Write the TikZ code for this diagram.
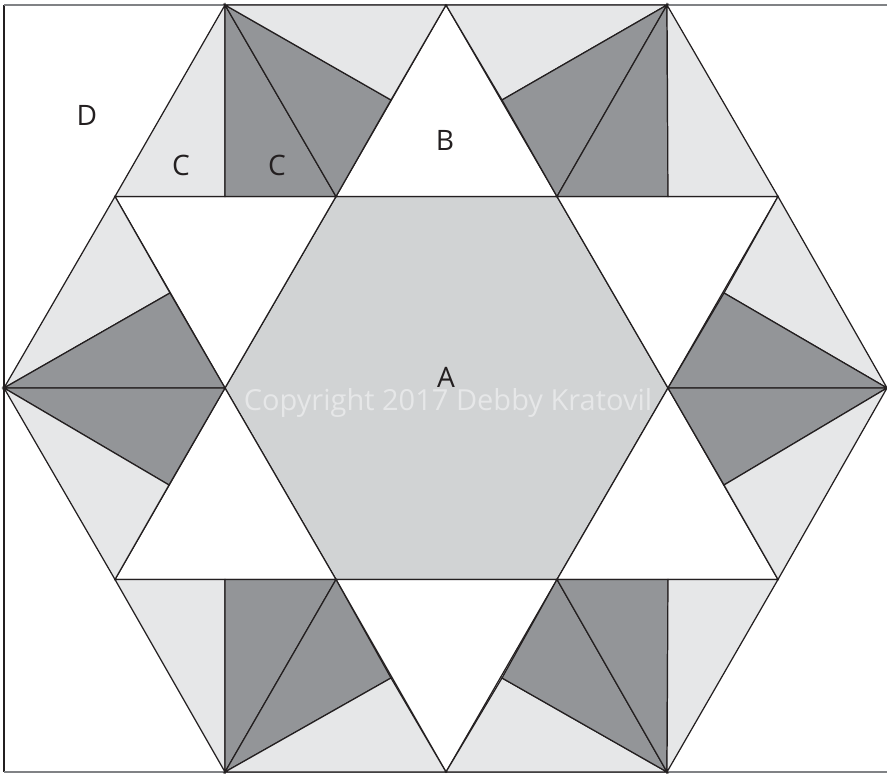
\documentclass[tikz,border=0pt]{standalone}
\usepackage{fontspec}
\setmainfont{Open Sans}
\usetikzlibrary{positioning,calc}
\definecolor{lightpatch}{HTML}{E6E7E8}
\definecolor{darkpatch}{HTML}{939598}
\definecolor{centerpatch}{HTML}{D1D3D4}
\definecolor{inkline}{HTML}{231F20}
\definecolor{frameline}{HTML}{808285}
\tikzset{
  lightp/.style={fill=lightpatch,draw=inkline,line width=0.35pt},
  darkp/.style={fill=darkpatch,draw=inkline,line width=0.35pt},
  whitep/.style={fill=white,draw=inkline,line width=0.35pt},
  letter/.style={text=inkline,font=\fontsize{8}{8}\selectfont,inner sep=0pt}
}
\begin{document}
\begin{tikzpicture}[x=0.01cm,y=-0.01cm]
        \useasboundingbox (0,0) rectangle (887,774);

        % Pontos
        \coordinate (tl) at (225,5);
        \coordinate (tm) at (446,5);
        \coordinate (tr) at (667,5);
        \coordinate (ul) at (115,196.5);
        \coordinate (ua) at (336,196.5);
        \coordinate (ub) at (557,196.5);
        \coordinate (ur) at (778,196.5);
        \coordinate (ml) at (4,388);
        \coordinate (ma) at (225,388);
        \coordinate (mb) at (668,388);
        \coordinate (mr) at (887,388);
        \coordinate (ll) at (115,579.5);
        \coordinate (la) at (336,579.5);
        \coordinate (lb) at (557,579.5);
        \coordinate (lr) at (778,579.5);
        \coordinate (bl) at (225,772);
        \coordinate (bm) at (446,772);
        \coordinate (br) at (667,772);

        % Moldura
        \draw[draw=inkline,line width=0.35pt] (4,5) -- (4,772);
        \draw[draw=frameline,line width=0.5pt] (4,5) -- (887,5);
        \draw[draw=frameline,line width=0.5pt] (4,772) -- (887,772);

        % Centro
        \draw[fill=centerpatch,draw=inkline,line width=0.35pt] (ua) -- (ub) -- (mb) -- (lb) -- (la) -- (ma) -- cycle;

        % Triangulos brancos
        \draw[whitep] (ua) -- (ub) -- (tm) -- cycle;
        \draw[whitep] (ul) -- (ua) -- (ma) -- cycle;
        \draw[whitep] (ub) -- (ur) -- (mb) -- cycle;
        \draw[whitep] (ll) -- (la) -- (ma) -- cycle;
        \draw[whitep] (lb) -- (lr) -- (mb) -- cycle;
        \draw[whitep] (la) -- (lb) -- (bm) -- cycle;

        % Bloco superior esquerdo
        \draw[lightp] (ul) -- (tl) -- (225,196.5) -- cycle;
        \draw[darkp] (tl) -- (225,196.5) -- (ua) -- cycle;
        \draw[darkp] (tl) -- (ua) -- (391,100) -- cycle;
        \draw[lightp] (tl) -- (tm) -- (391,100) -- cycle;

        % Bloco superior direito
        \draw[lightp] (tm) -- (tr) -- (502,100) -- cycle;
        \draw[darkp] (tr) -- (502,100) -- (ub) -- cycle;
        \draw[darkp] (tr) -- (ub) -- (668,196.5) -- cycle;
        \draw[lightp] (tr) -- (668,196.5) -- (ur) -- cycle;

        % Bloco esquerdo
        \draw[lightp] (ml) -- (ul) -- (170,293) -- cycle;
        \draw[darkp] (ml) -- (170,293) -- (ma) -- cycle;
        \draw[darkp] (ml) -- (ma) -- (169,485) -- cycle;
        \draw[lightp] (ml) -- (169,485) -- (ll) -- cycle;

        % Bloco direito
        \draw[lightp] (mr) -- (ur) -- (724,293) -- cycle;
        \draw[darkp] (mr) -- (724,293) -- (mb) -- cycle;
        \draw[darkp] (mr) -- (mb) -- (724,485) -- cycle;
        \draw[lightp] (mr) -- (724,485) -- (lr) -- cycle;

        % Bloco inferior esquerdo
        \draw[lightp] (ll) -- (bl) -- (225,579.5) -- cycle;
        \draw[darkp] (bl) -- (225,579.5) -- (la) -- cycle;
        \draw[darkp] (bl) -- (la) -- (391,678) -- cycle;
        \draw[lightp] (bl) -- (bm) -- (391,678) -- cycle;

        % Bloco inferior direito
        \draw[lightp] (bm) -- (br) -- (502,678) -- cycle;
        \draw[darkp] (br) -- (502,678) -- (lb) -- cycle;
        \draw[darkp] (br) -- (lb) -- (668,579.5) -- cycle;
        \draw[lightp] (br) -- (668,579.5) -- (lr) -- cycle;

        % Letras
        \node[letter] (letterD) at (87,115) {D};
        \node[letter] (letterCa) at (181,165) {C};
        \node[letter] (letterCb) at (277,165) {C};
        \node[letter] (letterB) at (445,140) {B};
        \node[letter] (letterA) at (446,377) {A};
        \node[text=lightpatch,font=\fontsize{8.25}{8.25}\selectfont,inner sep=0pt] (notice) at (448,403) {Copyright 2017 Debby Kratovil};
    \end{tikzpicture}
\end{document}
